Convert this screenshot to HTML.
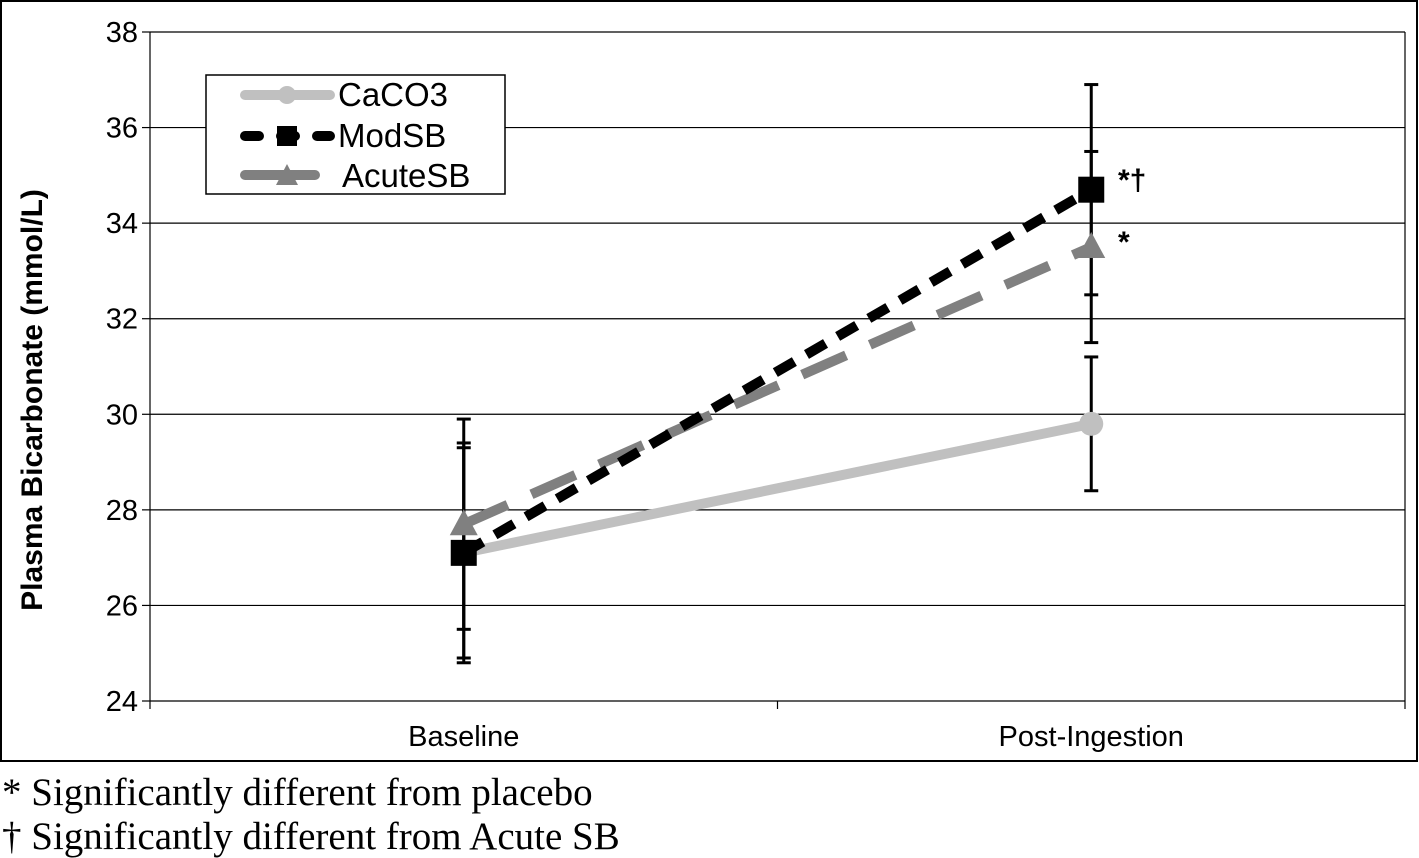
<!DOCTYPE html>
<html><head><meta charset="utf-8"><style>
body{margin:0;background:#fff;}
svg{display:block;font-family:"Liberation Sans",Arial,sans-serif;}
</style></head><body>
<svg id="chart" width="1419" height="858">
<rect x="1" y="1" width="1416" height="760" fill="none" stroke="#000" stroke-width="2"/>
<g id="grid"></g>
<g id="series"></g>
<text x="42" y="400" transform="rotate(-90 42 400)" text-anchor="middle" style="font-size:30px;font-weight:bold">Plasma Bicarbonate (mmol/L)</text>
<g>
<rect x="206" y="75" width="299" height="119" fill="#fff" stroke="#000" stroke-width="1.5"/>
<g>
<line x1="245" y1="95" x2="330" y2="95" stroke="#c0c0c0" stroke-width="10" stroke-linecap="round"/>
<circle cx="287" cy="95" r="9" fill="#c0c0c0"/>
<text x="338" y="106" style="font-size:33px">CaCO3</text></g>
<g>
<line x1="245" y1="136" x2="330" y2="136" stroke="#000" stroke-width="10" stroke-linecap="round" stroke-dasharray="14 22"/>
<rect x="277" y="126" width="20" height="20" fill="#000"/>
<circle cx="326" cy="136" r="4" fill="#000"/>
<text x="338" y="147" style="font-size:33px">ModSB</text></g>
<g>
<line x1="245" y1="175" x2="315" y2="175" stroke="#808080" stroke-width="10" stroke-linecap="round"/>
<polygon points="287,164 298,185 276,185" fill="#808080"/>
<text x="342" y="187" style="font-size:33px">AcuteSB</text></g>
</g>
<text x="1118" y="190" style="font-size:30px;font-weight:bold">*†</text>
<text x="1118" y="252" style="font-size:30px;font-weight:bold">*</text>
<text x="2" y="805" font-family="Liberation Serif,serif" style="font-size:39px">* Significantly different from placebo</text>
<text x="2" y="849" font-family="Liberation Serif,serif" style="font-size:39px">† Significantly different from Acute SB</text>
</svg>
<script>
const categories=["Baseline","Post-Ingestion"];
const yTicks=[24,26,28,30,32,34,36,38];
const caco3=[27.1,29.8];
const caco3Lo=[24.9,28.4];
const caco3Hi=[29.3,31.2];
const modsb=[27.1,34.7];
const modsbLo=[24.8,32.5];
const modsbHi=[29.4,36.9];
const acutesb=[27.7,33.5];
const acutesbLo=[25.5,31.5];
const acutesbHi=[29.9,35.5];

const NS="http://www.w3.org/2000/svg";
const L=150,R=1405,T=32,B=701,yMin=24,yMax=38;
const y=v=>B-(v-yMin)/(yMax-yMin)*(B-T);
const bw=(R-L)/categories.length;
const x=i=>L+bw*(i+0.5);
function mk(tag,attrs,parent){const e=document.createElementNS(NS,tag);for(const k in attrs)e.setAttribute(k,attrs[k]);parent.appendChild(e);return e;}
const grid=document.getElementById('grid'),ser=document.getElementById('series');
yTicks.forEach(t=>{
  const g=mk('line',{x1:L,x2:R,y1:y(t),y2:y(t),stroke:'#000','stroke-width':1.2},grid);
  
  
  mk('line',{x1:L-8,x2:L,y1:y(t),y2:y(t),stroke:'#000','stroke-width':1.2},grid);
  const tx=mk('text',{x:L-12,y:y(t)+10,'text-anchor':'end',style:'font-size:29px'},grid);
  tx.textContent=t;
  
  
});
mk('line',{x1:L,x2:L,y1:T,y2:B,stroke:'#000','stroke-width':1.2},grid);
mk('line',{x1:R,x2:R,y1:T,y2:B,stroke:'#000','stroke-width':1.2},grid);
for(let i=0;i<=categories.length;i++)mk('line',{x1:L+bw*i,x2:L+bw*i,y1:B,y2:B+8,stroke:'#000','stroke-width':1.2},grid);
categories.forEach((c,i)=>{
  const tx=mk('text',{x:x(i),y:746,'text-anchor':'middle',style:'font-size:29px'},grid);
  tx.textContent=c;
  
  
});
const defs=[
 {name:'caco3',v:caco3,lo:caco3Lo,hi:caco3Hi,col:'#c0c0c0',dash:'',m:'circle'},
 {name:'acutesb',v:acutesb,lo:acutesbLo,hi:acutesbHi,col:'#808080',dash:'48 26',m:'tri'},
 {name:'modsb',v:modsb,lo:modsbLo,hi:modsbHi,col:'#000',dash:'22 14',m:'sq'}];
defs.forEach(d=>d.v.forEach((v,i)=>{
  const g=mk('g',{},ser);
  
  
  mk('line',{x1:x(i),x2:x(i),y1:y(d.lo[i]),y2:y(d.hi[i]),stroke:'#000','stroke-width':3},g);
  [d.lo[i],d.hi[i]].forEach(e=>mk('line',{x1:x(i)-7,x2:x(i)+7,y1:y(e),y2:y(e),stroke:'#000','stroke-width':3},g));
}));
defs.forEach(d=>{
  const pts=d.v.map((v,i)=>x(i)+','+y(v)).join(' ');
  const ln=mk('polyline',{points:pts,fill:'none',stroke:d.col,'stroke-width':10},ser);
  if(d.dash)ln.setAttribute('stroke-dasharray',d.dash);
  
  
  d.v.forEach((v,i)=>{
    let m;
    if(d.m==='circle')m=mk('circle',{cx:x(i),cy:y(v),r:12,fill:d.col},ser);
    else if(d.m==='sq')m=mk('rect',{x:x(i)-13,y:y(v)-13,width:26,height:26,fill:d.col},ser);
    else m=mk('polygon',{points:`${x(i)},${y(v)-15} ${x(i)+14},${y(v)+11} ${x(i)-14},${y(v)+11}`,fill:d.col},ser);
    
    
  });
});
</script>
</body></html>
